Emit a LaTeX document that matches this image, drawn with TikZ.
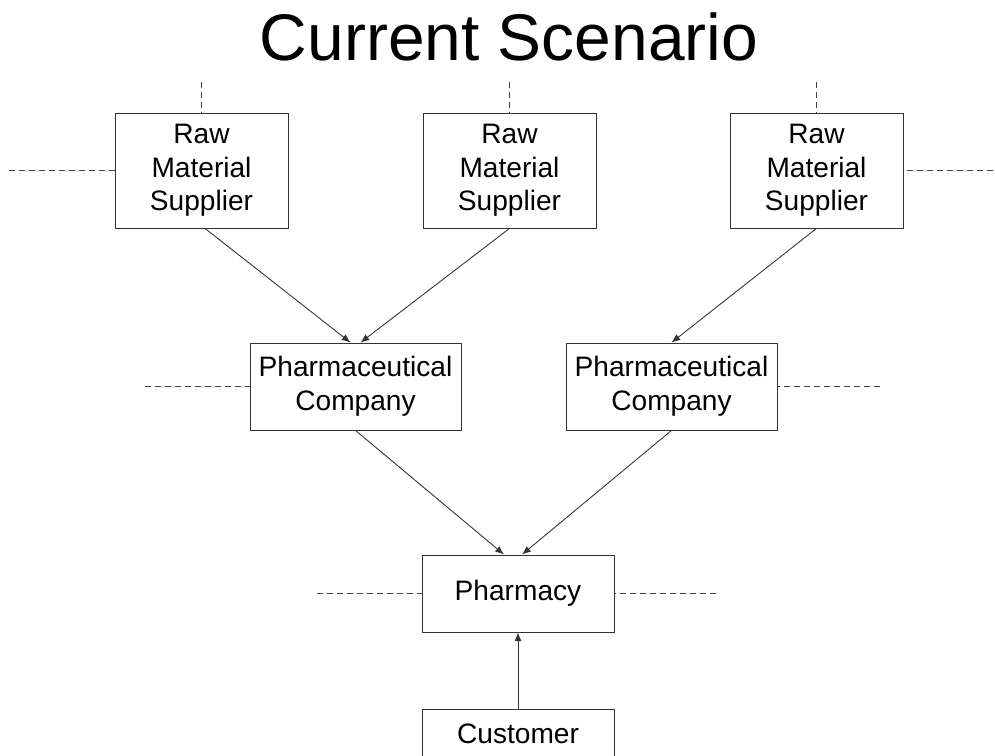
\documentclass[tikz,border=0pt]{standalone}
\usepackage{fontspec}
\setmainfont{Liberation Sans}
\usetikzlibrary{arrows.meta,positioning}

\begin{document}
\begin{tikzpicture}[x=0.02cm,y=-0.02cm,line width=0.5pt,
                    >={Latex[length=5pt,width=4pt]},
                    box/.style={rectangle,draw=black!80,fill=white,inner sep=0pt,
                                align=center,font=\fontsize{16}{19.2}\selectfont},
                    supplier/.style={box,minimum width=3.46cm,minimum height=2.3cm},
                    company/.style={box,minimum width=4.22cm,minimum height=1.74cm},
                    shop/.style={box,minimum width=3.84cm,minimum height=1.54cm},
                    stub/.style={draw=black!75,dash pattern=on 3.5pt off 2.2pt},
                    flow/.style={->,draw=black!80}]

  \useasboundingbox (0,0) rectangle (995,756);

  \node (title) at (509,37) {\fontsize{37.5}{40}\selectfont Current Scenario};

  \node[supplier] (rms1) at (201.5,170.5) {Raw\\Material\\Supplier};
  \node[supplier] (rms2) at (509.5,170.5) {Raw\\Material\\Supplier};
  \node[supplier] (rms3) at (816.5,170.5) {Raw\\Material\\Supplier};
  \node[company] (pc1) at (355.5,386.5) {Pharmaceutical\\Company};
  \node[company] (pc2) at (671.5,386.5) {Pharmaceutical\\Company};
  \node[shop] (pharmacy) at (518,593.5) {Pharmacy};
  \node[shop,minimum height=0.98cm] (customer) at (518,733.5) {Customer};

  % loose ends of the dashed stubs
  \coordinate[above=0.62cm of rms1.north] (t1);
  \coordinate[above=0.62cm of rms2.north] (t2);
  \coordinate[above=0.62cm of rms3.north] (t3);
  \coordinate[left=2.12cm of rms1.west] (w1);
  \coordinate[right=1.8cm of rms3.east] (e1);
  \coordinate[left=2.1cm of pc1.west] (w2);
  \coordinate[right=2.06cm of pc2.east] (e2);
  \coordinate[left=2.1cm of pharmacy.west] (w3);
  \coordinate[right=2.04cm of pharmacy.east] (e3);

  \path[stub]
    (t1) -- (rms1.north)
    (t2) -- (rms2.north)
    (t3) -- (rms3.north)
    (w1) -- (rms1.west)
    (e1) -- (rms3.east)
    (w2) -- (pc1.west)
    (e2) -- (pc2.east)
    (w3) -- (pharmacy.west)
    (e3) -- (pharmacy.east);

  \draw[flow] ([xshift=0.07cm]rms1.south) -- ([xshift=-0.1cm]pc1.north);
  \draw[flow] (rms2.south) -- ([xshift=0.1cm]pc1.north);
  \draw[flow] (rms3.south) -- (pc2.north);
  \draw[flow] (pc1.south) -- ([xshift=-0.28cm]pharmacy.north);
  \draw[flow] (pc2.south) -- ([xshift=0.08cm]pharmacy.north);
  \draw[flow] (customer.north) -- (pharmacy.south);
\end{tikzpicture}
\end{document}
